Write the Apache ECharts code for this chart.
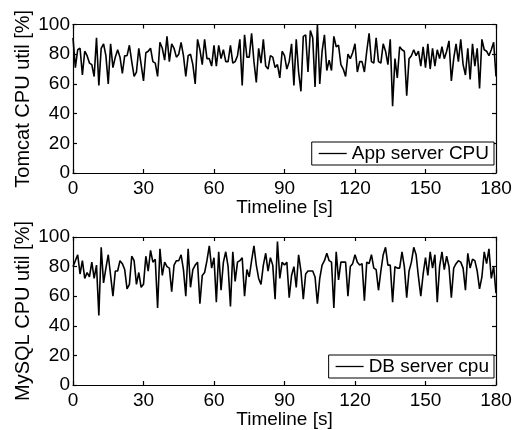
<!DOCTYPE html>
<html>
<head>
<meta charset="utf-8">
<script src="https://cdn.jsdelivr.net/npm/echarts@6/dist/echarts.min.js"></script>
<style>
html,body{margin:0;padding:0;background:#fff;}
#chart{width:519px;height:430px;}
</style>
</head>
<body>
<div id="chart"></div>
<script>
var xTicks = [0, 30, 60, 90, 120, 150, 180];
var yTicks = [0, 20, 40, 60, 80, 100];

var appServerCpu = [
91,71,83,84,66,82,79,74,73,65,
91,59,84,87,79,60,87,71,78,83,
78,67,79,79,86,75,65,68,84,73,
62,81,82,84,75,74,65,88,84,76,
92,75,87,84,78,80,88,79,65,79,
80,73,60,90,83,73,90,77,77,72,
86,72,86,77,83,75,75,86,74,75,
79,90,59,93,78,78,94,75,61,84,
74,90,72,70,79,78,71,73,64,82,
79,70,75,
87,59,90,68,55,92,93,68,96,91,
58,100,60,82,93,69,76,69,92,85,
86,73,70,65,80,77,81,87,68,75,
75,68,82,94,75,74,91,75,74,87,
82,73,90,45,77,64,85,83,82,52,
77,79,83,79,82,72,85,71,87,70,
84,72,83,77,85,77,82,89,62,77,
87,75,90,73,66,84,63,87,72,84,
57,90,83,82,79,83,88,65
];

var dbServerCpu = [
80,
84,88,75,84,72,76,73,83,72,81,
47,93,69,79,88,74,60,77,77,84,
82,78,65,68,87,84,68,76,66,68,
87,77,91,83,85,52,92,74,83,80,
79,63,81,84,84,88,78,60,92,66,
78,81,83,55,74,76,84,94,79,86,
56,90,64,83,90,80,53,90,70,83,
84,86,60,78,73,84,94,81,72,68,
81,89,77,86,81,58,97,72,83,81,
83,
59,74,80,66,88,77,58,75,77,77,
77,73,55,72,81,84,89,84,83,52,
90,71,83,83,83,60,80,82,88,83,
81,82,57,83,82,88,79,78,64,77,
88,93,81,81,56,80,79,79,90,80,
59,77,83,93,88,73,60,75,86,74,
90,79,88,56,80,90,78,87,80,59,
79,82,84,83,79,64,89,79,85,84,
77,65,73,90,82,92,72,80,62
];

var seriesNames = ['App server CPU', 'DB server cpu'];
var yNames = ['Tomcat CPU util [%]', 'MySQL CPU util [%]'];
var xName = 'Timeline [s]';

function toPairs(arr) { return arr.map(function (v, i) { return [i, v]; }); }

var FONT = "'Liberation Sans', Arial, Helvetica, sans-serif";
var FS = 19;
var xMin = xTicks[0], xMax = xTicks[xTicks.length - 1], xInt = xTicks[1] - xTicks[0];
var yMin = yTicks[0], yMax = yTicks[yTicks.length - 1], yInt = yTicks[1] - yTicks[0];

var lineStyleAxis = { color: '#000', width: 1.2 };

function mainX(gi) {
  return {
    type: 'value', gridIndex: gi, min: xMin, max: xMax, interval: xInt, position: 'bottom',
    name: xName, nameLocation: 'middle', nameGap: 25, nameMoveOverlap: false,
    nameTextStyle: { color: '#000', fontSize: FS, fontFamily: FONT },
    axisLine: { show: true, onZero: false, lineStyle: lineStyleAxis },
    axisTick: { show: true, inside: true, length: 4, lineStyle: lineStyleAxis },
    axisLabel: { color: '#000', fontSize: FS, fontFamily: FONT, margin: 6 },
    splitLine: { show: false }
  };
}
function topX(gi) {
  return {
    type: 'value', gridIndex: gi, min: xMin, max: xMax, interval: xInt, position: 'top',
    axisLine: { show: true, onZero: false, lineStyle: lineStyleAxis },
    axisTick: { show: true, inside: true, length: 4, lineStyle: lineStyleAxis },
    axisLabel: { show: false }, splitLine: { show: false }
  };
}
function mainY(gi, name) {
  return {
    type: 'value', gridIndex: gi, min: yMin, max: yMax, interval: yInt, position: 'left',
    name: name, nameLocation: 'middle', nameGap: 40, nameMoveOverlap: false,
    nameTextStyle: { color: '#000', fontSize: 20, fontFamily: FONT },
    axisLine: { show: true, onZero: false, lineStyle: lineStyleAxis },
    axisTick: { show: true, inside: true, length: 4, lineStyle: lineStyleAxis },
    axisLabel: { color: '#000', fontSize: FS, fontFamily: FONT, margin: 3 },
    splitLine: { show: false }
  };
}
function rightY(gi) {
  return {
    type: 'value', gridIndex: gi, min: yMin, max: yMax, interval: yInt, position: 'right',
    axisLine: { show: true, onZero: false, lineStyle: lineStyleAxis },
    axisTick: { show: true, inside: true, length: 4, lineStyle: lineStyleAxis },
    axisLabel: { show: false }, splitLine: { show: false }
  };
}
function legendFor(name, top) {
  return {
    data: [name], right: 25, top: top, orient: 'horizontal',
    backgroundColor: '#fff', borderColor: '#000', borderWidth: 1,
    padding: [2, 5, 2, 7], icon: 'rect', itemWidth: 28, itemHeight: 1.3,
    itemStyle: { color: '#000' },
    textStyle: { color: '#000', fontSize: FS, fontFamily: FONT }
  };
}

var chart = echarts.init(document.getElementById('chart'), null, { renderer: 'canvas' });
chart.setOption({
  animation: false,
  backgroundColor: '#fff',
  grid: [
    { left: 73, right: 23, top: 24.5, height: 148.5 },
    { left: 73, right: 23, top: 237, height: 148.5 }
  ],
  xAxis: [mainX(0), topX(0), mainX(1), topX(1)],
  yAxis: [mainY(0, yNames[0]), rightY(0), mainY(1, yNames[1]), rightY(1)],
  legend: [legendFor(seriesNames[0], 142), legendFor(seriesNames[1], 355)],
  series: [
    { name: seriesNames[0], type: 'line', xAxisIndex: 0, yAxisIndex: 0, data: toPairs(appServerCpu),
      symbol: 'none', lineStyle: { color: '#000', width: 1.6 }, itemStyle: { color: '#000' } },
    { name: seriesNames[1], type: 'line', xAxisIndex: 2, yAxisIndex: 2, data: toPairs(dbServerCpu),
      symbol: 'none', lineStyle: { color: '#000', width: 1.6 }, itemStyle: { color: '#000' } }
  ]
});
</script>
</body>
</html>
